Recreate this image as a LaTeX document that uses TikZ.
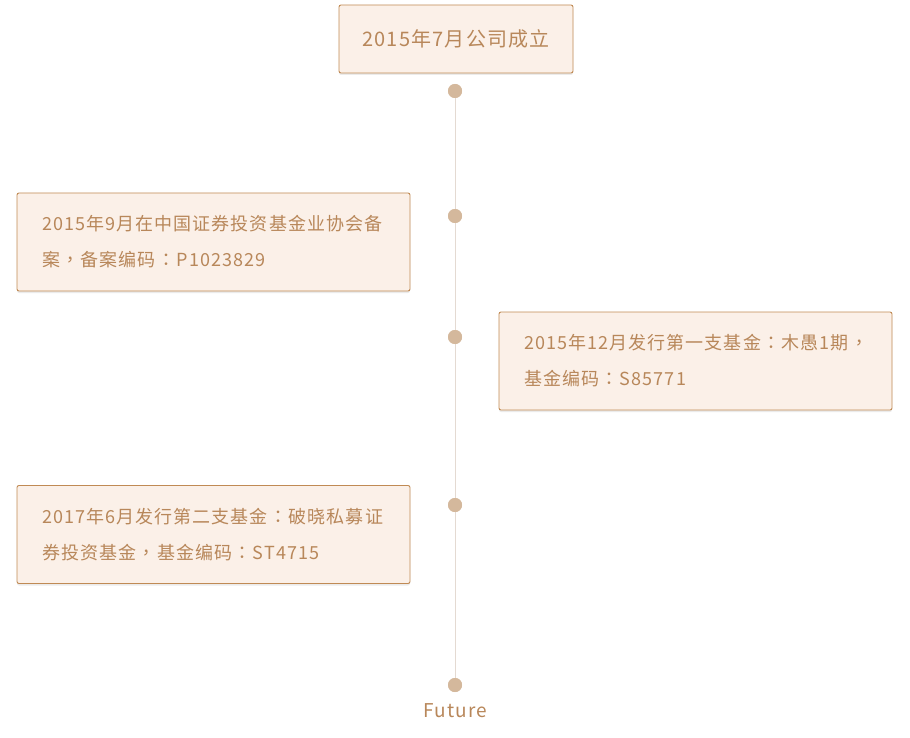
\documentclass[tikz,border=0pt]{standalone}
\usepackage{fontspec}
\setmainfont{Noto Sans CJK SC}
\newfontfamily\spaced[LetterSpace=6]{Noto Sans CJK SC}
\newfontfamily\tcpunct{Noto Sans CJK TC}
\newcommand{\pcolon}{\makebox[1.15em]{\tcpunct ：}}
\newcommand{\pcomma}{\makebox[1.15em]{\tcpunct ，}}
\usetikzlibrary{shadows}
\definecolor{boxfill}{HTML}{FBF0E8}
\definecolor{boxline}{HTML}{C08A54}
\definecolor{txt}{HTML}{B8875A}
\definecolor{dotc}{HTML}{D4B89C}
\definecolor{axis}{HTML}{E4DAD2}
\tikzset{
  evbox/.style={draw=boxline, line width=0.9pt, fill=boxfill, rounded corners=2pt,
    text=txt, font=\spaced\fontsize{18}{36}\selectfont, align=left,
    minimum width=393pt, minimum height=98pt, inner xsep=25pt, text width=343pt,
    drop shadow={shadow xshift=0pt, shadow yshift=-2pt, opacity=0.08, fill=black}},
  topbox/.style={draw=boxline, line width=0.9pt, fill=boxfill, rounded corners=2pt,
    text=txt, font=\spaced\fontsize{20}{24}\selectfont,
    minimum width=234pt, minimum height=68pt,
    drop shadow={shadow xshift=0pt, shadow yshift=-2pt, opacity=0.08, fill=black}},
  dotn/.style={circle, fill=dotc, minimum size=14pt, inner sep=0pt},
}
\begin{document}
\begin{tikzpicture}[x=1pt,y=-1pt]
\useasboundingbox (0,0) rectangle (910,738);
\node[dotn] (d1) at (455,91) {};
\node[dotn] (d2) at (455,216) {};
\node[dotn] (d3) at (455,337) {};
\node[dotn] (d4) at (455,505) {};
\node[dotn] (d5) at (455,685) {};
\draw[axis, line width=1pt] (d1.center) -- (d5.center);
\foreach \d in {d1,d2,d3,d4,d5} \node[dotn] at (\d) {};
\node[topbox] (t0) at (456,39) {2015年7月公司成立};
\node[evbox] (b1) at (213.5,242) {2015年9月在中国证券投资基金业协会备\\案\pcomma 备案编码\pcolon P1023829};
\node[evbox] (b2) at (695.5,361) {2015年12月发行第一支基金\pcolon 木愚1期\pcomma\\基金编码\pcolon S85771};
\node[evbox] (b3) at (213.5,534.5) {2017年6月发行第二支基金\pcolon 破晓私募证\\券投资基金\pcomma 基金编码\pcolon ST4715};
\node[text=txt, font=\spaced\fontsize{19}{24}\selectfont] (fut) at (455,711) {Future};
\end{tikzpicture}
\end{document}
